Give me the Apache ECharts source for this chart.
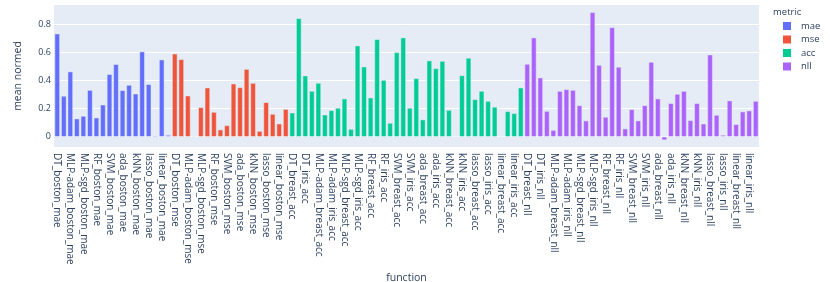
<!DOCTYPE html>
<html><head><meta charset="utf-8">
<script src="https://cdn.jsdelivr.net/npm/echarts@6/dist/echarts.min.js"></script>
<style>html,body{margin:0;padding:0;background:#fff}#c{width:830px;height:282px}</style>
</head><body><div id="c"></div>
<script>
const models = ['DT','MLP-adam','MLP-sgd','RF','SVM','ada','kNN','lasso','linear'];
const regressionSets = ['boston','diabetes'];
const classificationSets = ['breast','digits','iris','wine'];
const metrics = ['mae','mse','acc','nll'];
const metricColors = ['#636EFA','#EF553B','#00CC96','#AB63FA'];
const maeValues = [0.731,0.289,0.462,0.128,0.147,0.331,0.135,0.227,0.443,0.514,0.329,0.367,0.305,0.604,0.372,0.007,0.547,0.012];
const mseValues = [0.589,0.549,0.291,0.002,0.208,0.348,0.175,0.050,0.080,0.376,0.350,0.480,0.381,0.040,0.244,0.161,0.092,0.196];
const accValues = [0.170,0.840,0.433,0.324,0.381,0.156,0.187,0.204,0.270,0.054,0.646,0.497,0.277,0.691,0.402,0.097,0.599,0.703,0.204,0.414,0.121,0.540,0.485,0.537,0.189,0.000,0.435,0.559,0.265,0.324,0.253,0.211,0.000,0.180,0.166,0.348];
const nllValues = [0.516,0.703,0.419,0.182,0.047,0.324,0.336,0.331,0.222,0.114,0.883,0.509,0.140,0.776,0.495,0.057,0.194,0.114,0.222,0.530,0.270,-0.024,0.237,0.303,0.324,0.116,0.237,0.092,0.582,0.154,0.012,0.256,0.088,0.178,0.185,0.253];
const yTicks = [0,0.2,0.4,0.6,0.8];

const valuesByMetric = [maeValues, mseValues, accValues, nllValues];
const categories = [];
const ranges = [];
metrics.forEach((m, i) => {
  const sets = (m === 'mae' || m === 'mse') ? regressionSets : classificationSets;
  const start = categories.length;
  models.forEach(md => sets.forEach(s => categories.push(md + '_' + s + '_' + m)));
  ranges.push(start);
});
const series = metrics.map((m, i) => {
  const data = categories.map(() => null);
  valuesByMetric[i].forEach((v, j) => { data[ranges[i] + j] = v; });
  return {
    name: m, type: 'bar', stack: 'all', data: data,
    barCategoryGap: '20%',
    itemStyle: { color: metricColors[i], borderColor: '#E5ECF6', borderWidth: 0.5 },
    emphasis: { disabled: true }
  };
});
const font = '"Open Sans", verdana, arial, sans-serif';
const ink = '#2a3f5f';
const chart = echarts.init(document.getElementById('c'), null, { renderer: 'canvas' });
chart.setOption({
  animation: false,
  textStyle: { fontFamily: font },
  title: { text: 'metric', left: 773, top: 7, padding: 0,
    textStyle: { fontSize: 9.5, fontWeight: 'normal', color: ink, fontFamily: font } },
  legend: {
    orient: 'vertical', left: 783, top: 20, padding: 0, itemWidth: 8, itemHeight: 8, itemGap: 1.5,
    icon: 'rect',
    itemStyle: { borderWidth: 0 },
    textStyle: { fontSize: 9.5, lineHeight: 12, color: ink, fontFamily: font, padding: [0, 0, 0, 5] },
    data: metrics
  },
  grid: { left: 54, right: 71, top: 5, height: 142, show: true, backgroundColor: '#E5ECF6',
    borderWidth: 0, containLabel: false, outerBoundsMode: 'none' },
  xAxis: {
    type: 'category', data: categories,
    axisLine: { show: false, onZero: false }, axisTick: { show: false },
    axisLabel: { rotate: -90, interval: 1, fontSize: 10, color: ink, margin: 6, fontFamily: font },
    name: 'function', nameLocation: 'middle', nameGap: 117,
    nameTextStyle: { fontSize: 10.5, color: ink, fontFamily: font }
  },
  yAxis: {
    type: 'value', min: -0.073, max: 0.935,
    axisLine: { show: false },
    axisTick: { show: false, customValues: yTicks },
    axisLabel: { customValues: yTicks, fontSize: 9, color: ink, margin: 3, fontFamily: font,
      formatter: v => v === 0 ? '0' : v.toFixed(1) },
    splitLine: { show: true, lineStyle: { color: '#ffffff', width: 1 } },
    name: 'mean normed', nameLocation: 'middle', nameGap: 30,
    nameTextStyle: { fontSize: 10.5, color: ink, fontFamily: font }
  },
  series: series
});
</script></body></html>
